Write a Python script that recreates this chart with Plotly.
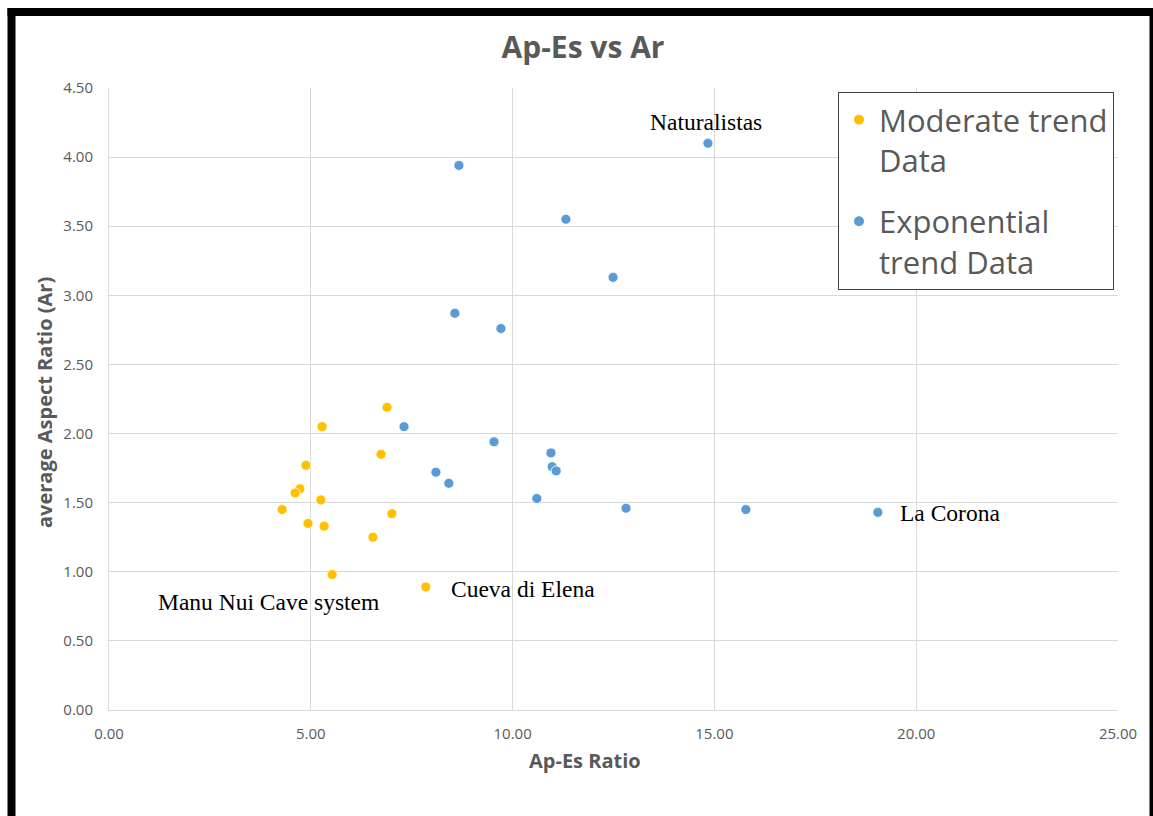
import plotly.graph_objects as go

# Moderate trend data
mod_x = [5.28, 6.89, 4.88, 6.74, 4.73, 4.61, 5.25, 4.29, 4.93, 5.33, 7.01, 6.54, 5.53, 7.85]
mod_y = [2.05, 2.19, 1.77, 1.85, 1.60, 1.57, 1.52, 1.45, 1.35, 1.33, 1.42, 1.25, 0.98, 0.89]

# Exponential trend data
exp_x = [8.67, 11.32, 12.49, 8.57, 9.71, 14.84, 7.31, 9.54, 10.95, 10.98, 11.08, 8.10, 8.42, 10.60, 12.81, 15.78, 19.05]
exp_y = [3.94, 3.55, 3.13, 2.87, 2.76, 4.10, 2.05, 1.94, 1.86, 1.76, 1.73, 1.72, 1.64, 1.53, 1.46, 1.45, 1.43]

# Site labels
label_text = ["Naturalistas", "La Corona", "Cueva di Elena", "Manu Nui Cave system"]
label_x = [14.79, 19.55, 8.42, 1.16]
label_y = [4.255, 1.425, 0.876, 0.78]
label_anchor = ["center", "left", "left", "left"]

x_ticks = [0, 5, 10, 15, 20, 25]
y_ticks = [0, 0.5, 1.0, 1.5, 2.0, 2.5, 3.0, 3.5, 4.0, 4.5]

GRAY = "#595959"

fig = go.Figure()
fig.add_trace(go.Scatter(
    x=mod_x, y=mod_y, mode="markers", name="Moderate trend<br>Data", legendgroup="a",
    marker=dict(color="#FFC000", size=10, line=dict(color="white", width=0.8)),
))
fig.add_trace(go.Scatter(
    x=exp_x, y=exp_y, mode="markers", name="Exponential<br>trend Data", legendgroup="b",
    marker=dict(color="#5B9BD5", size=10, line=dict(color="white", width=0.8)),
))

L, R, T, B = 109, 35, 88, 106
W, H = 1153, 816
pw, ph = W - L - R, H - T - B

def px(p):
    return (p - L) / pw

def py(q):
    return (H - B - q) / ph

annotations = []
for t, xv, yv, a in zip(label_text, label_x, label_y, label_anchor):
    annotations.append(dict(
        text=t, x=xv, y=yv, xref="x", yref="y", xanchor=a, yanchor="middle",
        showarrow=False, font=dict(family="Liberation Serif", size=23.5, color="black"),
    ))
annotations.append(dict(
    text="<b>Ap-Es Ratio</b>", x=px(585), y=py(760), xref="paper", yref="paper",
    xanchor="center", yanchor="middle", showarrow=False,
    font=dict(family="Open Sans", size=20, color=GRAY),
))
annotations.append(dict(
    text="<b>average Aspect Ratio (Ar)</b>", x=px(45), y=py(403), xref="paper", yref="paper",
    xanchor="center", yanchor="middle", showarrow=False, textangle=-90,
    font=dict(family="Open Sans", size=20, color=GRAY),
))

shapes = [
    dict(type="line", xref="paper", yref="paper", x0=px(11.5), x1=px(11.5), y0=py(8), y1=py(830),
         line=dict(color="black", width=8)),
    dict(type="line", xref="paper", yref="paper", x0=px(7.5), x1=px(1160), y0=py(12), y1=py(12),
         line=dict(color="black", width=8)),
    dict(type="line", xref="paper", yref="paper", x0=px(1152), x1=px(1152), y0=py(8), y1=py(830),
         line=dict(color="black", width=5)),
]

fig.update_layout(
    width=W, height=H,
    margin=dict(l=L, r=R, t=T, b=B),
    paper_bgcolor="white", plot_bgcolor="white",
    title=dict(text="<b>Ap-Es vs Ar</b>", x=583 / W, xref="container", xanchor="center",
               y=1 - 47 / H, yref="container", yanchor="middle",
               font=dict(family="Open Sans", size=30, color=GRAY)),
    xaxis=dict(range=[0, 25], tickvals=x_ticks, tickformat=".2f", showgrid=True,
               gridcolor="#d9d9d9", gridwidth=1, zeroline=False, showline=True,
               linecolor="#d9d9d9", linewidth=1, ticks="", ticklabelstandoff=10,
               tickfont=dict(family="Open Sans", size=15, color=GRAY)),
    yaxis=dict(range=[0, 4.5], tickvals=y_ticks, tickformat=".2f", showgrid=True,
               gridcolor="#d9d9d9", gridwidth=1, zeroline=False, showline=True,
               linecolor="#d9d9d9", linewidth=1, ticks="", ticklabelstandoff=12,
               tickfont=dict(family="Open Sans", size=15, color=GRAY)),
    legend=dict(x=px(838), y=py(92), xanchor="left", yanchor="top", valign="top",
                bordercolor="#404040", borderwidth=1, bgcolor="white",
                font=dict(family="Open Sans", size=31, color=GRAY),
                itemsizing="constant", tracegroupgap=18),
    showlegend=True,
    annotations=annotations,
    shapes=shapes,
)

fig.write_html("out.html")
